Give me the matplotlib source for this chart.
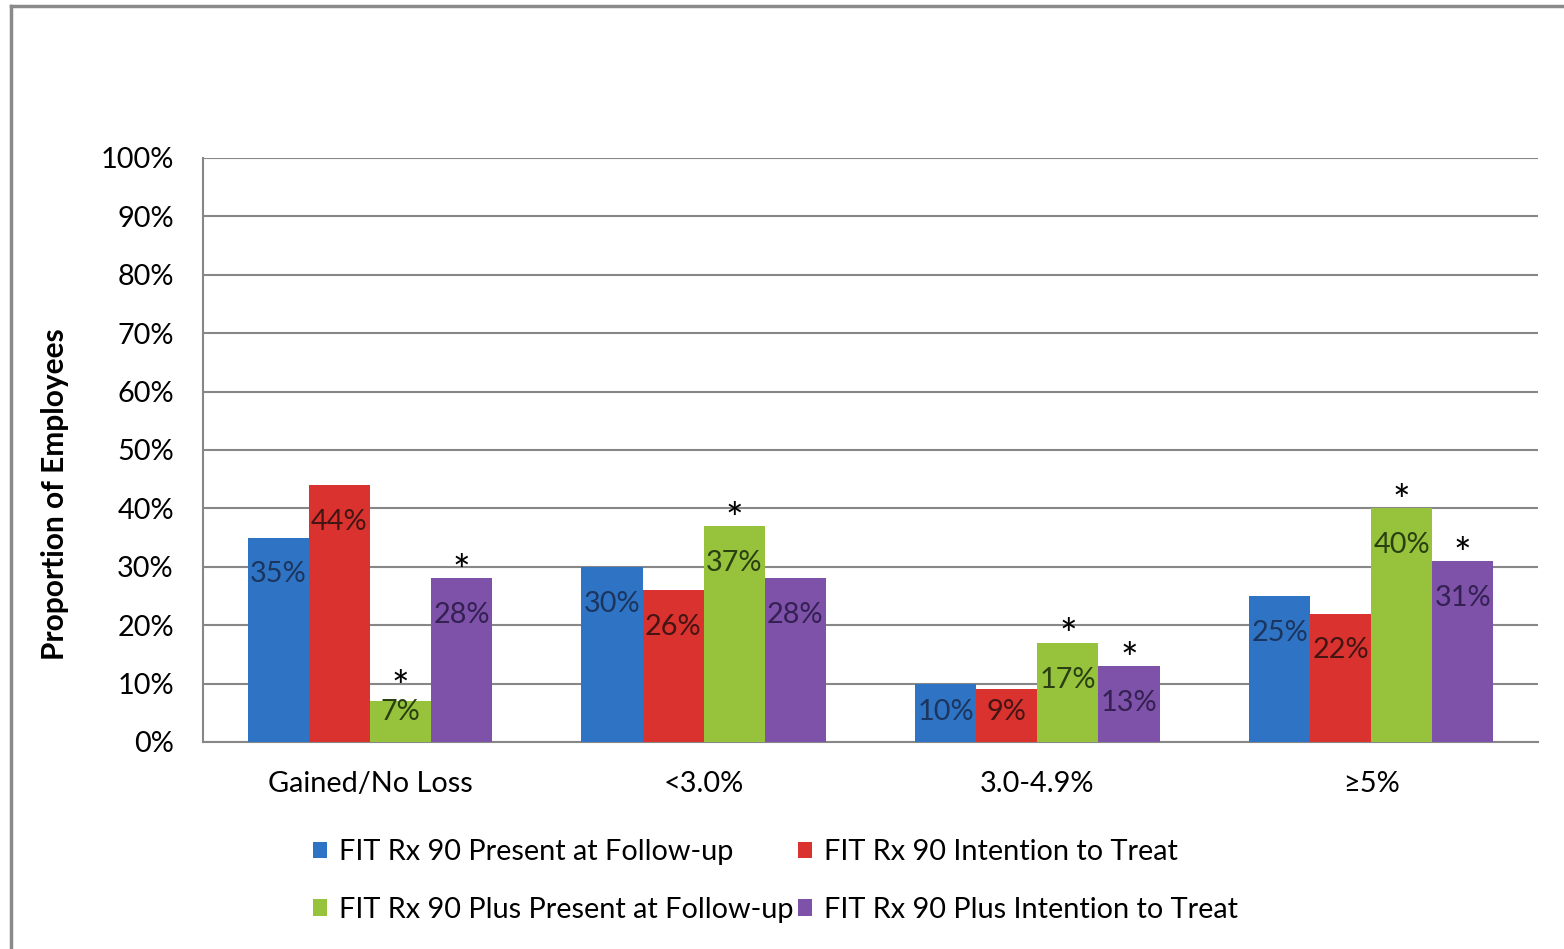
import matplotlib
matplotlib.use("Agg")
import matplotlib.pyplot as plt
from matplotlib.patches import Patch
from matplotlib.lines import Line2D
import numpy as np

plt.rcParams['font.family'] = ['Lato', 'DejaVu Sans']

categories = ["Gained/No Loss", "<3.0%", "3.0-4.9%", "\u22655%"]
series_names = [
    "FIT Rx 90 Present at Follow-up",
    "FIT Rx 90 Intention to Treat",
    "FIT Rx 90 Plus Present at Follow-up",
    "FIT Rx 90 Plus Intention to Treat",
]
rx90_present = [35, 30, 10, 25]
rx90_itt = [44, 26, 9, 22]
rx90plus_present = [7, 37, 17, 40]
rx90plus_itt = [28, 28, 13, 31]
# significance markers (True = asterisk above the bar)
sig_rx90plus_present = [True, True, True, True]
sig_rx90plus_itt = [True, False, True, True]
yticks = list(range(0, 101, 10))

values = [rx90_present, rx90_itt, rx90plus_present, rx90plus_itt]
sigs = [[False] * 4, [False] * 4, sig_rx90plus_present, sig_rx90plus_itt]
bar_colors = ["#2F74C4", "#DA332F", "#96C23C", "#7D52A8"]
label_colors = ["#1B355E", "#441513", "#2A3F12", "#342052"]

FS = 20.8
W, H = 1564, 949
fig = plt.figure(figsize=(W / 100, H / 100), dpi=100)
ax = fig.add_axes([203 / W, 1 - 742 / H, (1538 - 203) / W, (742 - 158) / H])

x = np.arange(len(categories))
bw = 0.183
for i, (vals, col, lcol, sg) in enumerate(zip(values, bar_colors, label_colors, sigs)):
    pos = x + (i - 1.5) * bw
    ax.bar(pos, vals, width=bw, color=col, edgecolor="none", zorder=3)
    for px, v, s in zip(pos, vals, sg):
        label_y = max(v - 6.3, 5.2)
        ax.text(px, label_y, f"{v}%", ha="center", va="center",
                fontsize=FS, color=lcol, zorder=4)
        if s:
            ax.text(px, max(v + 0.9, label_y + 3.8), "*", ha="center",
                    va="center", fontsize=30, color="black", zorder=4)

ax.set_xlim(-0.5, len(categories) - 0.5)
ax.set_ylim(0, 100)
ax.set_yticks(yticks)
ax.set_yticklabels([f"{t}%" for t in yticks])
ax.set_xticks(x)
ax.set_xticklabels(categories)
ax.tick_params(axis="y", length=0, pad=21, labelsize=FS)
ax.tick_params(axis="x", length=0, pad=21, labelsize=FS)
ax.yaxis.grid(True, color="#878787", linewidth=1.5, zorder=0)
ax.set_axisbelow(True)
for side in ["top", "right"]:
    ax.spines[side].set_visible(False)
for side in ["left", "bottom"]:
    ax.spines[side].set_color("#878787")
    ax.spines[side].set_linewidth(1.5)

fig.text(55 / W, 1 - 494 / H, "Proportion of Employees", rotation=90,
         ha="center", va="center", fontsize=21.5, fontweight="bold")

# legend: two rows, fill order arranged so rows read blue/red, green/purple
order = [0, 2, 1, 3]
handles = [Patch(facecolor=bar_colors[k], edgecolor="none") for k in order]
labels = [series_names[k] for k in order]
fig.legend(handles, labels, ncol=2, loc="center left",
           bbox_to_anchor=(287 / W, 1 - 881 / H), frameon=False,
           fontsize=FS, handlelength=0.5, handleheight=0.5,
           handletextpad=0.4, columnspacing=0.15, labelspacing=1.1)

# outer chart frame
fig.add_artist(Line2D([11 / W, 11 / W], [0.0, 1 - 6 / H], color="#8A8A8A", lw=2.5))
fig.add_artist(Line2D([11 / W, 1.0], [1 - 6 / H, 1 - 6 / H], color="#8A8A8A", lw=2.5))

fig.savefig("out.png", dpi=100)
